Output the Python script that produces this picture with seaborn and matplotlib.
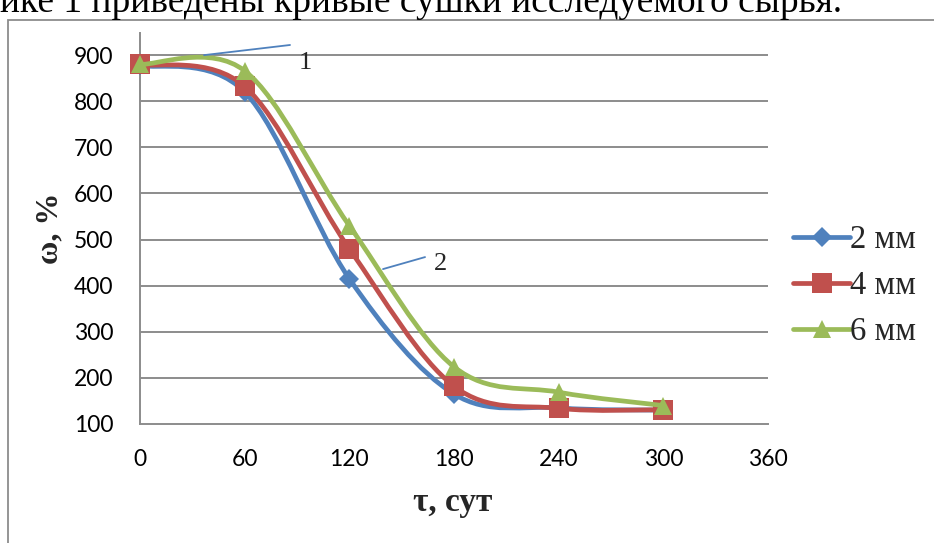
import numpy as np
import pandas as pd
import matplotlib
matplotlib.use("Agg")
import matplotlib.pyplot as plt
from matplotlib.path import Path
from matplotlib.patches import PathPatch, Rectangle
from matplotlib.lines import Line2D
import seaborn as sns

# ---------------- data ----------------
time_days = [0, 60, 120, 180, 240, 300]
w_2mm = [878, 820, 415, 165, 135, 130]
w_4mm = [880, 832, 480, 182, 134, 131]
w_6mm = [880, 866, 530, 224, 169, 140]
series_names = ["2 мм", "4 мм", "6 мм"]
x_ticks = [0, 60, 120, 180, 240, 300, 360]
y_ticks = [100, 200, 300, 400, 500, 600, 700, 800, 900]

colors = ["#4F81BD", "#C0504D", "#9BBB59"]
markers = ["D", "s", "^"]
msizes = [10.5, 14, 13.5]

df = pd.DataFrame({
    "t": time_days * 3,
    "w": w_2mm + w_4mm + w_6mm,
    "series": [s for s in series_names for _ in time_days],
})

sns.set_theme(style="white")
plt.rcParams["font.family"] = ["Lato", "DejaVu Sans"]

W, H = 934, 543
fig = plt.figure(figsize=(W / 100, H / 100), dpi=100)
ax = fig.add_axes([140 / W, 1 - 424 / H, (768 - 140) / W, (424 - 33) / H])

# chart outer border (cut by image edges)
fig.patches.append(Rectangle((8 / W, -0.1), 1.2, 1 - 20 / H + 0.1, transform=fig.transFigure,
                             fill=False, edgecolor="#8c8c8c", linewidth=1.3))

# page text above the chart (partly cut off, as in the source page)
fig.text(0 / W, 1 - 12 / H, "ике 1 приведены кривые сушки исследуемого сырья.",
         family="Liberation Serif", fontsize=27, va="baseline", ha="left", color="black")


def smooth_path(xs, ys):
    """Excel-style smoothed line (cubic Bezier through the data points)."""
    pts = np.column_stack([xs, ys]).astype(float)
    n = len(pts)
    verts = [pts[0]]
    codes = [Path.MOVETO]
    for i in range(n - 1):
        p0 = pts[i - 1] if i > 0 else pts[i]
        p1 = pts[i]
        p2 = pts[i + 1]
        p3 = pts[i + 2] if i + 2 < n else pts[i + 1]
        c1 = p1 + (p2 - p0) / 6.0
        c2 = p2 - (p3 - p1) / 6.0
        verts += [c1, c2, p2]
        codes += [Path.CURVE4] * 3
    return Path(verts, codes)


for i, name in enumerate(series_names):
    sub = df[df["series"] == name]
    patch = PathPatch(smooth_path(sub["t"].values, sub["w"].values), transform=ax.transData,
                      facecolor="none", edgecolor=colors[i], linewidth=3.4,
                      capstyle="round", joinstyle="round", zorder=3 + 2 * i)
    ax.add_patch(patch)
    sns.lineplot(data=sub, x="t", y="w", ax=ax, color=colors[i], marker=markers[i],
                 markersize=msizes[i], markeredgewidth=0, linewidth=0, legend=False,
                 zorder=4 + 2 * i)
    ax.lines[-1].set_clip_on(False)

ax.set_xlim(0, 360)
ax.set_ylim(100, 948)
ax.set_xticks(x_ticks)
ax.set_yticks(y_ticks)
ax.set_xticklabels([str(v) for v in x_ticks])
ax.set_yticklabels([str(v) for v in y_ticks])
ax.tick_params(axis="both", length=0, labelsize=16.5, colors="black")
ax.tick_params(axis="y", pad=19)
ax.tick_params(axis="x", pad=18)

ax.grid(False)
for y in y_ticks[1:]:
    ax.axhline(y, color="#8c8c8c", linewidth=1.4, zorder=1)
for s in ["top", "right"]:
    ax.spines[s].set_visible(False)
for s in ["left", "bottom"]:
    ax.spines[s].set_color("#8c8c8c")
    ax.spines[s].set_linewidth(1.4)

ax.set_xlabel("")
ax.set_ylabel("")
fig.text(453 / W, 1 - 503 / H, "τ, сут", family="Liberation Serif", fontweight="bold",
         fontsize=24, ha="center", va="center")
fig.text(50 / W, 1 - 228 / H, "ω, %", family="Liberation Serif", fontweight="bold",
         fontsize=23, ha="center", va="center", rotation=90)

# curve labels with leader lines
ax.plot([36.7, 86.0], [900, 922], color=colors[0], lw=1.3, clip_on=False, zorder=10)
ax.text(94.6, 884, "1", family="Liberation Serif", fontsize=19, ha="center", va="center")
ax.plot([139.3, 163.4], [436, 462], color=colors[0], lw=1.3, clip_on=False, zorder=10)
ax.text(172.5, 447, "2", family="Liberation Serif", fontsize=19, ha="center", va="center")

handles = [Line2D([0], [0], color=colors[i], lw=3.4, marker=markers[i],
                  markersize=msizes[i], markeredgewidth=0, solid_capstyle="round")
           for i in range(3)]
fig.legend(handles, series_names, loc="center left", bbox_to_anchor=(780 / W, 1 - 286 / H),
           frameon=False, prop={"family": "Liberation Serif", "size": 23.5},
           handlelength=1.75, handletextpad=0.0, labelspacing=0.47, borderaxespad=0)

fig.savefig("out.png", dpi=100)
